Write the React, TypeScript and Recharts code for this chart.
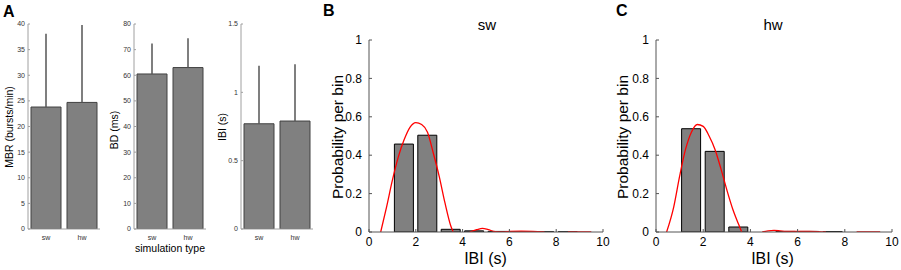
import React from "react";
import {
  Bar,
  BarChart,
  ComposedChart,
  ErrorBar,
  Line,
  XAxis,
  YAxis,
} from "recharts";

// panel A: means and upward error (sd) per simulation type
const simTypes = ["sw", "hw"];
const mbrMean = [23.8, 24.7];
const mbrErr = [14.3, 15.1];
const bdMean = [60.5, 63.0];
const bdErr = [11.9, 11.4];
const ibiMean = [0.77, 0.79];
const ibiErr = [0.425, 0.415];

const mbrTicks = [0, 5, 10, 15, 20, 25, 30, 35, 40];
const bdTicks = [0, 10, 20, 30, 40, 50, 60, 70, 80];
const ibiTicks = [0, 0.5, 1, 1.5];

// panels B / C: IBI histograms
const binCenters = [1.5, 2.5, 3.5, 4.5, 5.5, 6.5, 7.5, 8.5, 9.5];
const swProb = [0.458, 0.504, 0.014, 0.006, 0.003, 0.002, 0.001, 0.001, 0];
const hwProb = [0.538, 0.42, 0.026, 0, 0.003, 0.003, 0.002, 0, 0];

// fitted curves (null = below zero, clipped)
const swCurveX = [0.5, 0.75, 1, 1.25, 1.5, 1.75, 2, 2.25, 2.5, 2.75, 3, 3.25, 3.5, 3.6, 3.9, 4.3, 4.6, 4.85, 5.1, 5.4, 5.7, 6, 6.5, 7, 7.5, 8, 8.5, 9, 9.5];
const swCurveY = [0, 0.13, 0.27, 0.39, 0.48, 0.545, 0.57, 0.56, 0.52, 0.41, 0.29, 0.15, 0.03, 0, null, 0, 0.012, 0.019, 0.012, 0.002, 0.001, 0.003, 0.004, 0.003, 0, null, 0, 0.001, 0];
const hwCurveX = [0.45, 0.75, 1, 1.25, 1.5, 1.75, 2, 2.25, 2.5, 2.75, 3, 3.25, 3.5, 3.63, 4, 4.5, 4.75, 5, 5.25, 5.5, 6, 6.5, 7, 7.2, 8, 8.5, 9, 9.5];
const hwCurveY = [0, 0.13, 0.29, 0.43, 0.52, 0.56, 0.55, 0.5, 0.43, 0.33, 0.22, 0.12, 0.04, 0, null, 0, 0.006, 0.008, 0.006, 0.003, 0.003, 0.003, 0.001, 0, null, 0, 0, 0];

const probTicks = [0, 0.2, 0.4, 0.6, 0.8, 1];
const ibiAxisTicks = [0, 2, 4, 6, 8, 10];

const FONT = 'Arial, "Liberation Sans", Helvetica, sans-serif';

const toBars = (mean: number[], err: number[]) =>
  simTypes.map((name, i) => ({ name, mean: mean[i], err: [0, err[i]] }));

const toHist = (prob: number[]) =>
  binCenters.map((x, i) => ({ x, p: prob[i] }));

const toCurve = (xs: number[], ys: (number | null)[]) =>
  xs.map((x, i) => ({ x, y: ys[i] }));

// matlab-style ticks: short mark pointing into the plot, label outside
const yTickIn = (margin: number, len: number, size: number, color: string, lineColor: string) =>
  (props: any) => {
    const { x, y, payload } = props;
    return (
      <g>
        <line x1={x + margin} x2={x + margin + len} y1={y} y2={y} stroke={lineColor} />
        <text x={x} y={y} dy="0.355em" textAnchor="end" fontSize={size} fill={color}>
          {payload.value}
        </text>
      </g>
    );
  };

const xTickIn = (margin: number, len: number, size: number, color: string, lineColor: string) =>
  (props: any) => {
    const { x, y, payload } = props;
    return (
      <g>
        <line x1={x} x2={x} y1={y - margin} y2={y - margin - len} stroke={lineColor} />
        <text x={x} y={y} dy="0.71em" textAnchor="middle" fontSize={size} fill={color}>
          {payload.value}
        </text>
      </g>
    );
  };

interface SmallBarProps {
  left: number;
  width: number;
  data: { name: string; mean: number; err: number[] }[];
  max: number;
  ticks: number[];
}

const SmallBar: React.FC<SmallBarProps> = ({ left, width, data, max, ticks }) => (
  <div style={{ position: "absolute", left, top: 0 }}>
    <BarChart
      width={width}
      height={270}
      data={data}
      margin={{ top: 24, right: width - 28 - 72, left: 0, bottom: 29 }}
    >
      <XAxis
        dataKey="name"
        height={12}
        tickLine={false}
        tickSize={0}
        tickMargin={6}
        stroke="#a0a0a0"
        tick={{ fontSize: 7, fill: "#333" }}
        interval={0}
      />
      <YAxis
        width={28}
        domain={[0, max]}
        ticks={ticks}
        allowDataOverflow
        tickLine={false}
        tickSize={0}
        tickMargin={3}
        stroke="#a0a0a0"
        tick={yTickIn(3, 2, 7, "#333", "#a0a0a0")}
      />
      <Bar
        dataKey="mean"
        fill="#808080"
        stroke="#404040"
        barSize={30}
        isAnimationActive={false}
      >
        <ErrorBar dataKey="err" width={0} stroke="#555" strokeWidth={1.5} />
      </Bar>
    </BarChart>
  </div>
);

interface HistProps {
  left: number;
  width: number;
  right: number;
  hist: { x: number; p: number }[];
  curve: { x: number; y: number | null }[];
}

const Hist: React.FC<HistProps> = ({ left, width, right, hist, curve }) => (
  <div style={{ position: "absolute", left, top: 0 }}>
    <ComposedChart
      width={width}
      height={270}
      data={hist}
      margin={{ top: 40, right, left: 0, bottom: 18 }}
    >
      <XAxis
        xAxisId="curve"
        dataKey="x"
        type="number"
        domain={[0, 10]}
        ticks={ibiAxisTicks}
        allowDataOverflow
        height={20}
        tickLine={false}
        tickSize={0}
        tickMargin={5}
        stroke="#555"
        tick={xTickIn(5, 3, 12, "#000", "#555")}
      />
      {/* hidden axis for the bins, so bar width comes from bin spacing only */}
      <XAxis
        xAxisId="bins"
        dataKey="x"
        type="number"
        domain={[0, 10]}
        allowDataOverflow
        height={0}
        hide
      />
      <YAxis
        width={39}
        domain={[0, 1]}
        ticks={probTicks}
        allowDataOverflow
        tickLine={false}
        tickSize={0}
        tickMargin={7}
        stroke="#555"
        tick={yTickIn(7, 3, 12, "#000", "#555")}
      />
      <Bar
        xAxisId="bins"
        dataKey="p"
        fill="#808080"
        stroke="#000"
        strokeWidth={1}
        barSize={19}
        isAnimationActive={false}
      />
      <Line
        xAxisId="curve"
        data={curve}
        dataKey="y"
        type="monotone"
        stroke="#ff0000"
        strokeWidth={1.3}
        dot={false}
        isAnimationActive={false}
      />
    </ComposedChart>
  </div>
);

const vText = (label: string, cx: number, cy: number, size: number) => (
  <text
    x={cx}
    y={cy}
    transform={`rotate(-90 ${cx} ${cy})`}
    textAnchor="middle"
    dominantBaseline="central"
    fontSize={size}
  >
    {label}
  </text>
);

export default function App() {
  return (
    <div
      style={{
        position: "absolute",
        left: 0,
        top: 0,
        width: 901,
        height: 270,
        background: "#fff",
        fontFamily: FONT,
      }}
    >
      <SmallBar left={0} width={110} data={toBars(mbrMean, mbrErr)} max={40} ticks={mbrTicks} />
      <SmallBar left={106} width={110} data={toBars(bdMean, bdErr)} max={80} ticks={bdTicks} />
      <SmallBar left={213} width={111} data={toBars(ibiMean, ibiErr)} max={1.5} ticks={ibiTicks} />
      <Hist left={330} width={290} right={17} hist={toHist(swProb)} curve={toCurve(swCurveX, swCurveY)} />
      <Hist left={617} width={284} right={9} hist={toHist(hwProb)} curve={toCurve(hwCurveX, hwCurveY)} />

      <svg
        width={901}
        height={270}
        style={{ position: "absolute", left: 0, top: 0, pointerEvents: "none" }}
        fontFamily={FONT}
      >
        <text x={3} y={17} fontSize={16} fontWeight="bold">A</text>
        <text x={323} y={16} fontSize={16} fontWeight="bold">B</text>
        <text x={616} y={16} fontSize={16} fontWeight="bold">C</text>

        {vText("MBR (bursts/min)", 8.5, 127, 10.5)}
        {vText("BD (ms)", 114, 130, 10.5)}
        {vText("IBI (s)", 222, 127, 10.5)}
        <text x={170} y={252} fontSize={10.5} textAnchor="middle">simulation type</text>

        <text x={487} y={30} fontSize={15} textAnchor="middle">sw</text>
        <text x={773} y={30} fontSize={15} textAnchor="middle">hw</text>
        {vText("Probability per bin", 337.5, 137, 15.5)}
        {vText("Probability per bin", 622.5, 137, 15.5)}
        <text x={485.5} y={263.5} fontSize={16} textAnchor="middle">IBI (s)</text>
        <text x={772.5} y={263.5} fontSize={16} textAnchor="middle">IBI (s)</text>
      </svg>
    </div>
  );
}
